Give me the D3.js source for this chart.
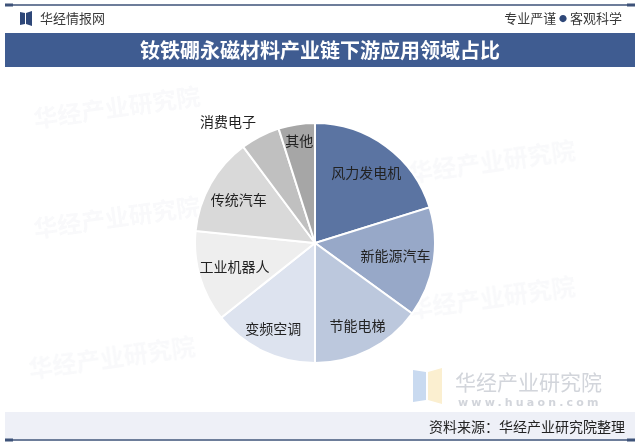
<!DOCTYPE html>
<html><head><meta charset="utf-8">
<script src="https://cdn.jsdelivr.net/npm/d3@7/dist/d3.min.js"></script>
<style>body{margin:0;background:#fff}svg{display:block}</style>
</head><body>
<svg id="c" width="640" height="444"></svg>
<script>
const title = "钕铁硼永磁材料产业链下游应用领域占比";
const categories = ["风力发电机","新能源汽车","节能电梯","变频空调","工业机器人","传统汽车","消费电子","其他"];
const values = [20.2, 14.8, 15.0, 14.3, 12.3, 13.2, 5.3, 4.9];
const colors = ["#5b74a2","#97a8c8","#bcc8dd","#dde3ef","#eeeeee","#d9d9d9","#c0c0c0","#a6a6a6"];
const source = "资料来源：华经产业研究院整理";

const F = "'Noto Sans CJK SC','Noto Sans',sans-serif";
const svg = d3.select("#c");

// watermarks
const wm = svg.append("g").attr("opacity",0.035).attr("fill","#3a4f7a").attr("font-family",F).attr("font-size",24).attr("font-weight",700);
[[35,128],[35,238],[30,378],[410,182],[410,318]].forEach(p=>{
  wm.append("text").attr("x",p[0]).attr("y",p[1]).attr("transform",`rotate(-8 ${p[0]} ${p[1]})`).text("华经产业研究院");
});

// top & bottom lines
svg.append("line").attr("x1",5).attr("x2",635).attr("y1",5).attr("y2",5).attr("stroke","#3d5279").attr("stroke-width",1.5);
svg.append("rect").attr("x",5).attr("y",3.5).attr("width",8).attr("height",3).attr("fill","#3d5279");
svg.append("rect").attr("x",627).attr("y",3.5).attr("width",8).attr("height",3).attr("fill","#3d5279");

// header
const lg = svg.append("g").attr("fill","#2e4778");
lg.append("path").attr("d","M20,12 L25,13 L25,24 L20,25 Z");
lg.append("path").attr("d","M26,13 L32,11 L32,26 L26,24 Z");
svg.append("text").attr("x",40).attr("y",23).attr("font-family",F).attr("font-size",13).attr("fill","#3a3a3a").text("华经情报网");
const ht = svg.append("text").attr("x",622).attr("y",23).attr("text-anchor","end").attr("font-family",F).attr("font-size",13).attr("fill","#3a3a3a");
ht.append("tspan").text("专业严谨 ");
ht.append("tspan").attr("font-size",8).attr("dy",-1.5).attr("fill","#2e4778").text("●");
ht.append("tspan").attr("dy",1.5).text(" 客观科学");

// title bar
svg.append("rect").attr("x",5).attr("y",33).attr("width",630).attr("height",34).attr("fill","#3f5c91");
svg.append("text").attr("x",320).attr("y",57.5).attr("text-anchor","middle").attr("font-family",F).attr("font-weight",700).attr("font-size",20).attr("fill","#fff").text(title);

// footer band
svg.append("rect").attr("x",5).attr("y",412).attr("width",630).attr("height",27).attr("fill","#eef0f7");
svg.append("line").attr("x1",5).attr("x2",635).attr("y1",440).attr("y2",440).attr("stroke","#3d5279").attr("stroke-width",1.5);
svg.append("rect").attr("x",627).attr("y",438.5).attr("width",8).attr("height",3).attr("fill","#3d5279");
svg.append("rect").attr("x",5).attr("y",438.5).attr("width",8).attr("height",3).attr("fill","#3d5279");
svg.append("text").attr("x",625).attr("y",432).attr("text-anchor","end").attr("font-family",F).attr("font-size",14).attr("fill","#222").text(source);

// bottom-right logo watermark
const br = svg.append("g");
br.append("path").attr("d","M413,370 L426,372 L426,400 L413,402 Z").attr("fill","#c9daf0");
br.append("path").attr("d","M428,372 L442,368 L442,404 L428,400 Z").attr("fill","#fbefd0");
br.append("text").attr("x",455).attr("y",390).attr("font-family",F).attr("font-size",21).attr("fill","#d2d5db").text("华经产业研究院");
br.append("text").attr("x",458).attr("y",406).attr("font-family","'DejaVu Sans',sans-serif").attr("font-size",11).attr("font-weight",700).attr("letter-spacing",3.2).attr("fill","#d2d5db").text("www.huaon.com");

// pie
const cx = 315, cy = 243, R = 120;
const data = categories.map((c,i)=>({name:c,value:values[i],color:colors[i]}));
const pie = d3.pie().sort(null).value(d=>d.value);
const arcs = pie(data);
const arc = d3.arc().innerRadius(0).outerRadius(R);
const g = svg.append("g").attr("transform",`translate(${cx},${cy})`);
g.selectAll("path").data(arcs).join("path").attr("d",arc).attr("fill",d=>d.data.color).attr("stroke","#fff").attr("stroke-width",2);

const lf = [0.72,0.68,0.78,0.8,0.7,0.73,1.24,0.86];
g.selectAll("text.l").data(arcs).join("text").attr("class","l")
  .attr("transform",(d,i)=>{const a=(d.startAngle+d.endAngle)/2 - (i===6?0.15:0); const r=R*lf[i]; return `translate(${Math.sin(a)*r},${-Math.cos(a)*r})`;})
  .attr("text-anchor","middle").attr("dy","0.35em")
  .attr("font-family",F).attr("font-size",14).attr("fill","#222")
  .text(d=>d.data.name);
</script>
</body></html>
